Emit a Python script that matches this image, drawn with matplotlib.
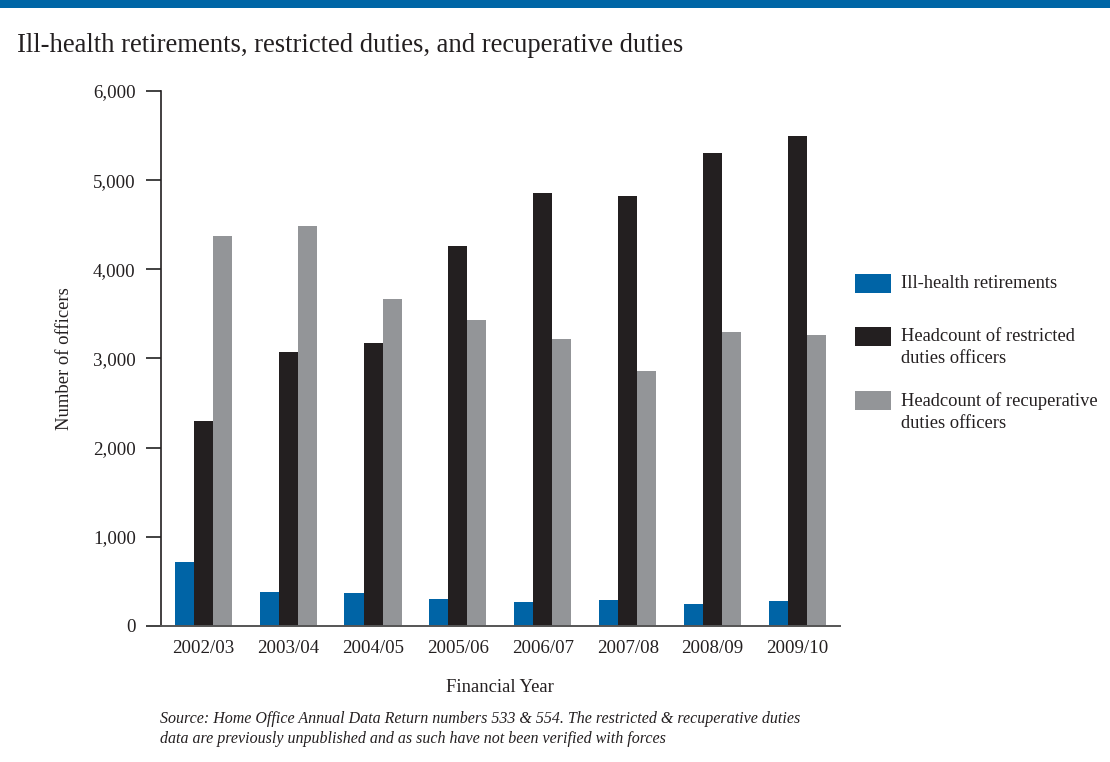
import matplotlib.pyplot as plt
import numpy as np
from matplotlib.patches import Rectangle

# data
years = ['2002/03', '2003/04', '2004/05', '2005/06',
         '2006/07', '2007/08', '2008/09', '2009/10']
ill_health = [715, 380, 370, 305, 270, 290, 248, 280]
restricted = [2300, 3075, 3175, 4260, 4860, 4820, 5305, 5495]
recuperative = [4375, 4490, 3665, 3430, 3215, 2860, 3295, 3260]

series_names = ['Ill-health retirements',
                'Headcount of restricted\nduties officers',
                'Headcount of recuperative\nduties officers']
yticks = [0, 1000, 2000, 3000, 4000, 5000, 6000]

# style
blue = '#0064a6'
black = '#231f20'
grey = '#939598'
text_color = '#231f20'
bar_w = 0.224

plt.rcParams.update({'font.family': 'serif',
                     'font.serif': ['Liberation Serif', 'DejaVu Serif'],
                     'font.size': 13.4})

fig = plt.figure(figsize=(11.1, 7.62), dpi=100)
ax = fig.add_axes([0.1448, 0.1785, 0.612, 0.7021])

x = np.arange(len(years))
ax.bar(x - bar_w, ill_health, bar_w, color=blue, linewidth=0)
ax.bar(x, restricted, bar_w, color=black, linewidth=0)
ax.bar(x + bar_w, recuperative, bar_w, color=grey, linewidth=0)

ax.set_xlim(-0.5, 7.5)
ax.set_ylim(0, 6000)
ax.set_xticks(x)
ax.set_xticklabels(years)
ax.set_yticks(yticks)
ax.set_yticklabels(['{:,}'.format(v) for v in yticks])

for side in ['top', 'right']:
    ax.spines[side].set_visible(False)
ax.spines['left'].set_color(black)
ax.spines['left'].set_linewidth(1.2)
ax.spines['bottom'].set_color('#555555')
ax.spines['bottom'].set_linewidth(1.4)

ax.tick_params(axis='x', length=0, pad=10, labelsize=13.6, colors=text_color)
ax.tick_params(axis='y', length=11, width=1.3, pad=7, labelsize=13.6,
               colors='#333333', labelcolor=text_color)

ax.set_xlabel('Financial Year', fontsize=13.4, color=text_color)
ax.xaxis.set_label_coords(0.5, -0.1)
ax.set_ylabel('Number of officers', fontsize=13.4, color=text_color)
ax.yaxis.set_label_coords(-0.129, 0.5)

# top band and title
fig.add_artist(Rectangle((0, 1 - 7.5 / 762), 1, 7.5 / 762,
                         transform=fig.transFigure, color='#0066a6', lw=0))
fig.text(17 / 1110, 1 - 46 / 762,
         'Ill-health retirements, restricted duties, and recuperative duties',
         fontsize=19.2, color=text_color, va='center', ha='left')

# legend drawn by hand so the swatches sit next to the first line
legend_colors = [blue, black, grey]
legend_top = [274, 327, 391]
for name, col, top in zip(series_names, legend_colors, legend_top):
    fig.add_artist(Rectangle((855 / 1110, 1 - (top + 19) / 762),
                             36 / 1110, 19 / 762,
                             transform=fig.transFigure, color=col, lw=0))
    fig.text(901 / 1110, 1 - (top + 1) / 762, name, fontsize=13.3,
             color=text_color, va='top', ha='left', linespacing=1.38)

fig.text(160 / 1110, 1 - 711 / 762,
         'Source: Home Office Annual Data Return numbers 533 & 554. '
         'The restricted & recuperative duties\n'
         'data are previously unpublished and as such have not been '
         'verified with forces',
         fontsize=11.5, style='italic', color=text_color,
         va='top', ha='left', linespacing=1.3)

fig.savefig('out.png', dpi=100)
